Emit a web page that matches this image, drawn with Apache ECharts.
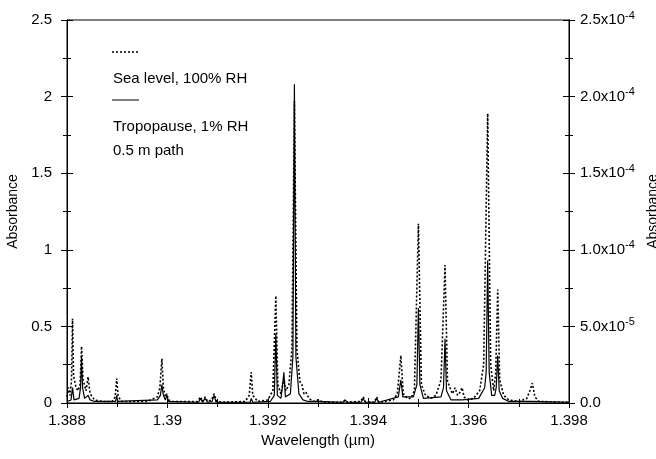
<!DOCTYPE html>
<html><head><meta charset="utf-8">
<script src="https://cdn.jsdelivr.net/npm/echarts@6/dist/echarts.min.js"></script>
<style>html,body{margin:0;padding:0;background:#fff}#c{width:656px;height:459px}</style>
</head><body><div id="c"></div>
<script>
// Sea level, 100% RH (left axis, dotted)
const seaWl = [1.38800,1.38803,1.38806,1.38809,1.38811,1.38813,1.38818,1.38822,1.38826,1.38829,1.38832,1.38838,1.38842,1.38846,1.38855,1.38870,1.38890,1.38896,1.38899,1.38902,1.38910,1.38960,1.38980,1.38985,1.38989,1.38992,1.38996,1.38999,1.39002,1.39010,1.39060,1.39066,1.39070,1.39075,1.39080,1.39088,1.39093,1.39098,1.39110,1.39155,1.39163,1.39167,1.39170,1.39180,1.39200,1.39210,1.39216,1.39220,1.39226,1.39232,1.39236,1.39242,1.39248,1.39253,1.39258,1.39264,1.39268,1.39272,1.39276,1.39282,1.39290,1.39300,1.39310,1.39350,1.39354,1.39358,1.39385,1.39390,1.39394,1.39412,1.39417,1.39421,1.39450,1.39458,1.39465,1.39470,1.39478,1.39485,1.39492,1.39500,1.39506,1.39514,1.39525,1.39535,1.39545,1.39553,1.39558,1.39563,1.39568,1.39573,1.39578,1.39583,1.39587,1.39591,1.39598,1.39610,1.39622,1.39630,1.39638,1.39644,1.39650,1.39654,1.39658,1.39662,1.39670,1.39680,1.39700,1.39716,1.39722,1.39727,1.39732,1.39740,1.39800];
const seaAbs = [0.04,0.10,0.05,0.15,0.55,0.18,0.10,0.08,0.12,0.37,0.15,0.08,0.17,0.06,0.02,0.01,0.01,0.04,0.16,0.04,0.01,0.01,0.04,0.10,0.29,0.10,0.04,0.06,0.02,0.01,0.01,0.04,0.01,0.04,0.01,0.02,0.06,0.01,0.005,0.01,0.05,0.20,0.05,0.01,0.02,0.08,0.70,0.12,0.06,0.16,0.08,0.12,0.35,1.97,0.35,0.14,0.12,0.06,0.07,0.03,0.01,0.02,0.005,0.005,0.02,0.005,0.01,0.04,0.01,0.005,0.04,0.005,0.02,0.06,0.31,0.06,0.03,0.03,0.08,1.17,0.12,0.05,0.03,0.05,0.15,0.90,0.14,0.10,0.06,0.10,0.05,0.07,0.10,0.04,0.02,0.03,0.08,0.25,1.89,0.25,0.08,0.20,0.74,0.15,0.05,0.02,0.01,0.03,0.08,0.13,0.04,0.01,0.005];

// Tropopause, 1% RH (right axis, solid)
const tropWl = [1.38800,1.38808,1.38811,1.38814,1.38824,1.38827,1.38829,1.38831,1.38835,1.38842,1.38846,1.38855,1.38897,1.38899,1.38901,1.38980,1.38986,1.38989,1.38992,1.38996,1.38999,1.39002,1.39062,1.39066,1.39070,1.39075,1.39080,1.39089,1.39093,1.39097,1.39165,1.39167,1.39170,1.39205,1.39213,1.39216,1.39219,1.39226,1.39229,1.39232,1.39235,1.39245,1.39250,1.39253,1.39256,1.39262,1.39270,1.39280,1.39300,1.39350,1.39354,1.39358,1.39386,1.39390,1.39394,1.39413,1.39417,1.39421,1.39460,1.39465,1.39469,1.39490,1.39497,1.39500,1.39503,1.39510,1.39545,1.39550,1.39553,1.39556,1.39565,1.39587,1.39620,1.39632,1.39635,1.39638,1.39641,1.39646,1.39652,1.39655,1.39658,1.39661,1.39668,1.39680,1.39727,1.39800];
const tropAbs = [0.01e-4,0.02e-4,0.10e-4,0.02e-4,0.03e-4,0.10e-4,0.30e-4,0.10e-4,0.03e-4,0.05e-4,0.02e-4,0.01e-4,0.01e-4,0.05e-4,0.01e-4,0.02e-4,0.05e-4,0.12e-4,0.05e-4,0.02e-4,0.05e-4,0.01e-4,0.005e-4,0.03e-4,0.005e-4,0.03e-4,0.005e-4,0.01e-4,0.05e-4,0.005e-4,0.005e-4,0.03e-4,0.005e-4,0.01e-4,0.05e-4,0.45e-4,0.05e-4,0.03e-4,0.10e-4,0.20e-4,0.04e-4,0.06e-4,0.30e-4,2.08e-4,0.30e-4,0.06e-4,0.02e-4,0.01e-4,0.01e-4,0.005e-4,0.02e-4,0.005e-4,0.005e-4,0.03e-4,0.005e-4,0.005e-4,0.03e-4,0.005e-4,0.04e-4,0.15e-4,0.04e-4,0.04e-4,0.12e-4,0.62e-4,0.12e-4,0.03e-4,0.04e-4,0.10e-4,0.42e-4,0.08e-4,0.02e-4,0.02e-4,0.03e-4,0.10e-4,0.20e-4,0.93e-4,0.20e-4,0.05e-4,0.05e-4,0.10e-4,0.31e-4,0.08e-4,0.03e-4,0.01e-4,0.01e-4,0.005e-4];

const xTickLabels = ['1.388','1.39','1.392','1.394','1.396','1.398'];
const leftTickLabels = ['0','0.5','1','1.5','2','2.5'];
const rightTickLabels = [['0.0',''],['5.0x10','-5'],['1.0x10','-4'],['1.5x10','-4'],['2.0x10','-4'],['2.5x10','-4']];
const legendTexts = ['Sea level, 100% RH','Tropopause, 1% RH','0.5 m path'];

const FONT = 'Liberation Sans';
const chart = echarts.init(document.getElementById('c'), null, {renderer:'canvas'});
const txt = {color:'#000', fontFamily:FONT, fontSize:14};
const grid = {left:67, right:87, top:20, bottom:56, show:true, borderColor:'#000', borderWidth:1,
  containLabel:false, outerBoundsMode:'none'};
const xLab = v => { const i = Math.round((v-1.388)/0.002); return xTickLabels[i] ?? ''; };
const lLab = v => { const i = Math.round(v/0.5); return leftTickLabels[i] ?? ''; };
const rLab = v => { const i = Math.round(v/5e-5); const p = rightTickLabels[i]; if(!p) return ''; return p[1] ? '{b|'+p[0]+'}{s|'+p[1]+'}' : '{b|'+p[0]+'}'; };

const baseX = {type:'value', min:1.388, max:1.398, interval:0.002, position:'bottom', splitLine:{show:false},
  axisLine:{show:true, lineStyle:{color:'#000', width:1}}, minorSplitLine:{show:false}};
const baseY = {type:'value', splitLine:{show:false}, axisLine:{show:true, lineStyle:{color:'#000', width:1}}, minorSplitLine:{show:false}};

chart.setOption({
  animation:false,
  backgroundColor:'#fff',
  grid: grid,
  xAxis:[
    Object.assign({}, baseX, {
      name:'Wavelength (\u00b5m)', nameLocation:'middle', nameGap:29, nameTextStyle:Object.assign({}, txt, {fontSize:15}),
      axisTick:{show:true, inside:false, length:5, lineStyle:{color:'#000'}},
      minorTick:{show:true, splitNumber:2, length:4, lineStyle:{color:'#000'}},
      axisLabel:Object.assign({}, txt, {fontSize:15, margin:10, formatter:xLab})
    }),
    Object.assign({}, baseX, {
      axisTick:{show:true, inside:true, length:5, lineStyle:{color:'#000'}},
      minorTick:{show:true, splitNumber:2, length:4, lineStyle:{color:'#000'}},
      axisLabel:{show:false}
    })
  ],
  yAxis:[
    Object.assign({}, baseY, {
      position:'left', min:0, max:2.5, interval:0.5,
      name:'Absorbance', nameLocation:'middle', nameGap:46, nameRotate:90, nameTextStyle:txt,
      axisTick:{show:true, inside:false, length:6, lineStyle:{color:'#000'}},
      minorTick:{show:true, splitNumber:2, length:4, lineStyle:{color:'#000'}},
      axisLabel:Object.assign({}, txt, {fontSize:15, margin:15, formatter:lLab})
    }),
    Object.assign({}, baseY, {
      position:'right', min:0, max:2.5e-4, interval:5e-5,
      name:'Absorbance', nameLocation:'middle', nameGap:72, nameRotate:90, nameTextStyle:txt,
      axisTick:{show:true, inside:false, length:6, lineStyle:{color:'#000'}},
      minorTick:{show:true, splitNumber:2, length:4, lineStyle:{color:'#000'}},
      axisLabel:{margin:11, formatter:rLab, rich:{
        b:{color:'#000', fontFamily:FONT, fontSize:15},
        s:{color:'#000', fontFamily:FONT, fontSize:11, verticalAlign:'bottom', padding:[0,0,9,0]}
      }}
    }),
    Object.assign({}, baseY, {
      position:'left', min:0, max:2.5, interval:0.5,
      axisTick:{show:true, inside:true, length:6, lineStyle:{color:'#000'}},
      minorTick:{show:true, splitNumber:2, length:4, lineStyle:{color:'#000'}},
      axisLabel:{show:false}
    }),
    Object.assign({}, baseY, {
      position:'right', min:0, max:2.5e-4, interval:5e-5,
      axisTick:{show:true, inside:true, length:6, lineStyle:{color:'#000'}},
      minorTick:{show:true, splitNumber:2, length:4, lineStyle:{color:'#000'}},
      axisLabel:{show:false}
    })
  ],
  series:[
    {name:'Sea level, 100% RH', type:'line', xAxisIndex:0, yAxisIndex:0, showSymbol:false, symbol:'none',
     lineStyle:{color:'#000', width:1.6, type:[2,2]}, data: seaWl.map((w,i)=>[w, seaAbs[i]]), z:2},
    {name:'Tropopause, 1% RH', type:'line', xAxisIndex:0, yAxisIndex:1, showSymbol:false, symbol:'none',
     lineStyle:{color:'#000', width:1.2}, data: tropWl.map((w,i)=>[w, tropAbs[i]]), z:3}
  ],
  graphic:[
    {type:'line', shape:{x1:112, y1:52, x2:139, y2:52}, style:{stroke:'#000', lineWidth:1.5, lineDash:[2,2]}},
    {type:'text', left:113, top:71, style:{text:legendTexts[0], fill:'#000', font:'15px "Liberation Sans"'}},
    {type:'line', shape:{x1:112, y1:100, x2:139, y2:100}, style:{stroke:'#000', lineWidth:1}},
    {type:'text', left:113, top:119, style:{text:legendTexts[1], fill:'#000', font:'15px "Liberation Sans"'}},
    {type:'text', left:113, top:143, style:{text:legendTexts[2], fill:'#000', font:'15px "Liberation Sans"'}}
  ]
});
</script></body></html>
